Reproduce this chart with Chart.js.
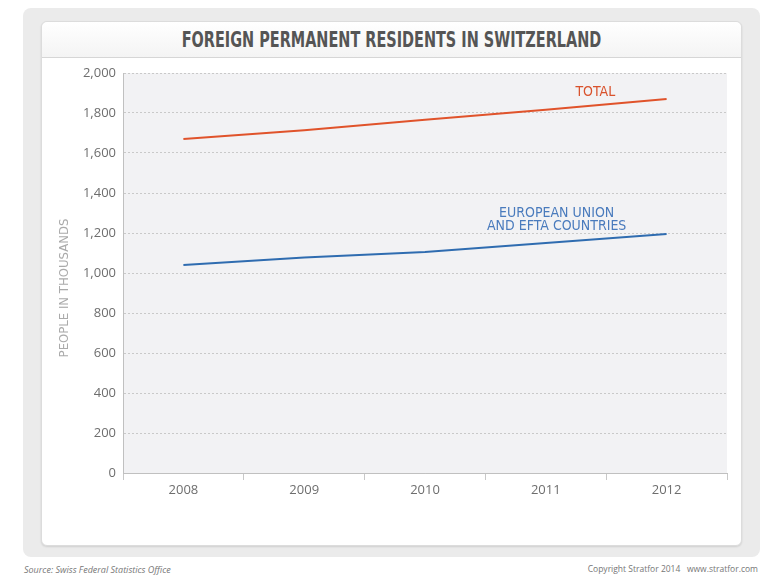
<!DOCTYPE html>
<html>
<head>
<meta charset="utf-8">
<script src="https://cdn.jsdelivr.net/npm/chart.js@4.4.1/dist/chart.umd.min.js"></script>
<style>
  html, body { margin: 0; padding: 0; background: #fff; width: 784px; height: 577px; overflow: hidden; }
  #outer { position: absolute; left: 23px; top: 8px; width: 737px; height: 549px; background: #ebebeb; border-radius: 8px; }
  #panel { position: absolute; left: 41px; top: 21px; width: 699px; height: 523px; background: #fff; border: 1px solid #dcdcdc; border-radius: 6px; box-shadow: 0 1px 2px rgba(0,0,0,0.12); }
  #header { position: absolute; left: 0; top: 0; width: 699px; height: 35px; border-bottom: 1px solid #d6d6d6; border-radius: 6px 6px 0 0;
    background: linear-gradient(#ffffff, #f4f4f4); }
  #title { position: absolute; left: 0; width: 699px; top: 5px; text-align: center; font-family: "DejaVu Sans Condensed", sans-serif;
    font-weight: bold; font-size: 22px; color: #555; transform: scaleX(0.73); transform-origin: 50% 50%; }
  #wrap { position: absolute; left: 41px; top: 57px; width: 701px; height: 489px; }
  .foot { position: absolute; top: 563px; font-family: "Open Sans", sans-serif; font-size: 9px; color: #777; }
  #src { left: 24px; font-style: italic; }
  #copy { right: 26px; font-size: 8.5px; }
</style>
</head>
<body>
<div id="outer"></div>
<div id="panel"><div id="header"><div id="title">FOREIGN PERMANENT RESIDENTS IN SWITZERLAND</div></div></div>
<div id="wrap"><canvas id="chart" width="701" height="489"></canvas></div>
<div class="foot" id="src">Source: Swiss Federal Statistics Office</div>
<div class="foot" id="copy">Copyright Stratfor 2014&nbsp;&nbsp;&nbsp;www.stratfor.com</div>
<script>
// data (thousands)
const years = ['2008', '2009', '2010', '2011', '2012'];
const totalResidents = [1670, 1714, 1766, 1816, 1870];
const euEftaResidents = [1040, 1078, 1105, 1150, 1195];
const yTicks = [0, 200, 400, 600, 800, 1000, 1200, 1400, 1600, 1800, 2000];

// label text, anchored in data coordinates
const labels = [
  { lines: ['TOTAL'], x: 3.41, y: 1905, color: '#d9522c' },
  { lines: ['EUROPEAN UNION', 'AND EFTA COUNTRIES'], x: 3.09, y: 1300, color: '#4a7bbd' },
];

const plotBg = {
  id: 'plotBg',
  beforeDraw(chart) {
    const { ctx, chartArea: a } = chart;
    ctx.save();
    ctx.fillStyle = '#f2f2f4';
    ctx.fillRect(a.left, a.top, a.right - a.left, a.bottom - a.top);
    ctx.restore();
  },
  afterDraw(chart) {
    const { ctx, chartArea: a, scales } = chart;
    ctx.save();
    ctx.textAlign = 'center';
    ctx.textBaseline = 'middle';
    ctx.font = '14px "DejaVu Sans Condensed", sans-serif';
    labels.forEach((l) => {
      const px = scales.x.getPixelForValue(l.x);
      const py = scales.y.getPixelForValue(l.y);
      ctx.fillStyle = l.color;
      l.lines.forEach((t, i) => ctx.fillText(t, px, py + i * 13));
    });
    // axis title
    ctx.translate(24, (a.top + a.bottom) / 2 + 15);
    ctx.rotate(-Math.PI / 2);
    ctx.fillStyle = '#aaa';
    ctx.font = '13px "DejaVu Sans Condensed", sans-serif';
    ctx.fillText('PEOPLE IN THOUSANDS', 0, 0);
    ctx.restore();
  },
};

new Chart(document.getElementById('chart'), {
  type: 'line',
  data: {
    labels: years,
    datasets: [
      { label: 'Total', data: totalResidents, borderColor: '#e0532b', borderWidth: 2, pointRadius: 0, tension: 0, fill: false },
      { label: 'EU and EFTA', data: euEftaResidents, borderColor: '#2f6cb0', borderWidth: 2, pointRadius: 0, tension: 0, fill: false },
    ],
  },
  options: {
    responsive: false,
    animation: false,
    layout: { padding: { top: 16, right: 15, left: 0, bottom: 0 } },
    plugins: { legend: { display: false }, tooltip: { enabled: false } },
    scales: {
      x: {
        offset: true,
        grid: { offset: true, drawOnChartArea: false, drawTicks: true, tickLength: 7, color: '#c8c8c8' },
        border: { color: '#c0c0c0' },
        ticks: { color: '#6e6e6e', font: { family: '"Open Sans", sans-serif', size: 13 }, padding: 2 },
        afterFit: (s) => { s.height = 73; },
      },
      y: {
        min: 0,
        max: 2000,
        afterBuildTicks: (s) => { s.ticks = yTicks.map((v) => ({ value: v })); },
        grid: { color: '#c9c9c9', drawTicks: false, lineWidth: 1 },
        border: { color: '#c0c0c0', dash: [2, 2] },
        ticks: {
          color: '#6e6e6e',
          padding: 7,
          font: { family: '"Open Sans", sans-serif', size: 13 },
          callback: (v) => v.toLocaleString('en-US'),
        },
        afterFit: (s) => { s.width = 82; },
      },
    },
  },
  plugins: [plotBg],
});
</script>
</body>
</html>
